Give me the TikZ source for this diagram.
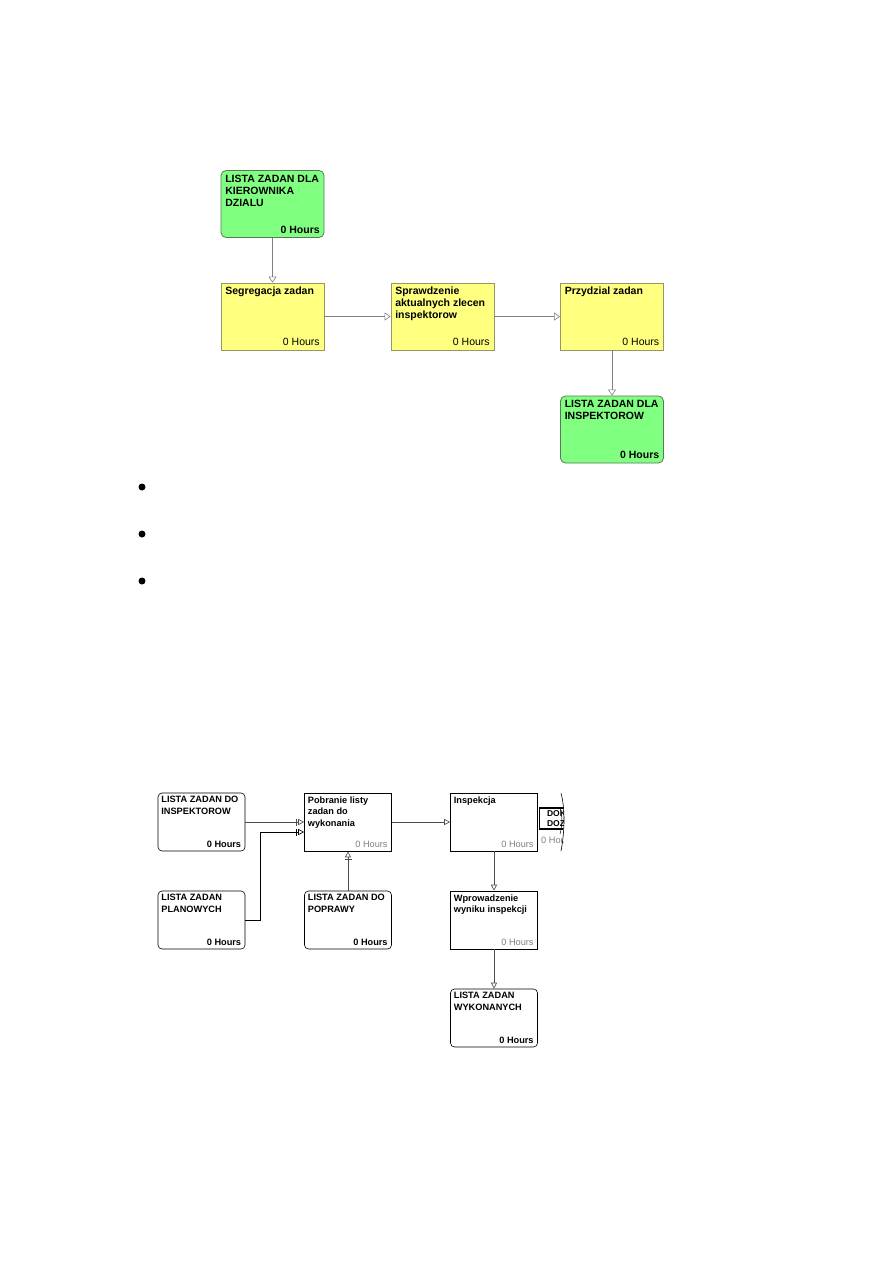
\documentclass[tikz,border=0pt]{standalone}
\usepackage{fontspec}
\setmainfont{Liberation Sans}
\usetikzlibrary{arrows.meta}
\definecolor{procyellow}{RGB}{255,255,128}
\definecolor{listgreen}{RGB}{128,255,128}
\definecolor{yellowedge}{RGB}{150,150,100}
\definecolor{greenedge}{RGB}{90,120,90}
\begin{document}
\begin{tikzpicture}[x=1pt, y=-1pt,
  bigbox/.style={draw, minimum width=103pt, minimum height=67pt, inner sep=0pt, line width=0.8pt},
  greenbox/.style={bigbox, fill=listgreen, draw=greenedge, rounded corners=5pt},
  yellowbox/.style={bigbox, fill=procyellow, draw=yellowedge},
  bigtitle/.style={anchor=north west, inner sep=4.5pt, align=left, font=\fontsize{10.5}{12}\selectfont\bfseries},
  bighours/.style={anchor=south east, inner sep=4.5pt, font=\fontsize{10.5}{12}\selectfont},
  smallbox/.style={draw, fill=white, minimum width=87pt, minimum height=58pt, inner sep=0pt, line width=0.6pt},
  listbox/.style={smallbox, rounded corners=4pt},
  smalltitle/.style={anchor=north west, inner sep=3.5pt, align=left, font=\fontsize{9.2}{11.7}\selectfont\bfseries},
  smallhours/.style={anchor=south east, inner sep=4pt, font=\fontsize{9.2}{11.7}\selectfont\bfseries},
  prochours/.style={anchor=south east, inner sep=4pt, text=gray, font=\fontsize{9.2}{11.7}\selectfont},
  dokbox/.style={draw, line width=1.6pt, anchor=north west, minimum width=40pt, minimum height=21pt, inner sep=2pt, align=left, font=\fontsize{8.5}{10}\selectfont\bfseries},
  bullet/.style={circle, fill=black, minimum size=7pt, inner sep=0pt},
  topconn/.style={draw=gray, line width=0.6pt, -{Triangle[open, length=6pt, width=8pt]}},
  conn/.style={draw=gray!60!black, line width=0.6pt, -{Triangle[open, length=6pt, width=6pt]}},
  barconn/.style={draw=gray!60!black, line width=0.6pt, -{Bar[width=7pt, sep=1.5pt] Triangle[open, length=6pt, width=6pt]}}]
  \useasboundingbox (0,0) rectangle (893,1263);
  \node[greenbox, label={[bigtitle]north west:{LISTA ZADAN DLA\\KIEROWNIKA\\DZIALU}}, label={[bighours, font=\fontsize{10.5}{12}\selectfont\bfseries]south east:0 Hours}] (kier) at (272.5,204) {};
  \node[yellowbox, label={[bigtitle]north west:{Segregacja zadan}}, label={[bighours]south east:0 Hours}] (segr) at (272.5,316.5) {};
  \node[yellowbox, label={[bigtitle]north west:{Sprawdzenie\\aktualnych zlecen\\inspektorow}}, label={[bighours]south east:0 Hours}] (spraw) at (442.5,316.5) {};
  \node[yellowbox, label={[bigtitle]north west:{Przydzial zadan}}, label={[bighours]south east:0 Hours}] (przy) at (612,316.5) {};
  \node[greenbox, label={[bigtitle]north west:{LISTA ZADAN DLA\\INSPEKTOROW}}, label={[bighours, font=\fontsize{10.5}{12}\selectfont\bfseries]south east:0 Hours}] (linsp) at (612,429.5) {};
  \draw[topconn] (kier) -- (segr);
  \draw[topconn] (segr) -- (spraw);
  \draw[topconn] (spraw) -- (przy);
  \draw[topconn] (przy) -- (linsp);
  \foreach \y/\n in {487/b1, 534/b2, 581/b3}
    \node[bullet] (\n) at (142,\y) {};
  \node[listbox, label={[smalltitle]north west:{LISTA ZADAN DO\\INSPEKTOROW}}, label={[smallhours]south east:0 Hours}] (ldi) at (201.5,822) {};
  \node[listbox, label={[smalltitle]north west:{LISTA ZADAN\\PLANOWYCH}}, label={[smallhours]south east:0 Hours}] (lplan) at (201.5,920) {};
  \node[smallbox, label={[smalltitle]north west:{Pobranie listy\\zadan do\\wykonania}}, label={[prochours]south east:0 Hours}] (pobr) at (348,822) {};
  \node[listbox, label={[smalltitle]north west:{LISTA ZADAN DO\\POPRAWY}}, label={[smallhours]south east:0 Hours}] (popr) at (348,920) {};
  \node[smallbox, label={[smalltitle]north west:{Inspekcja}}, label={[prochours]south east:0 Hours}] (inspk) at (494,822) {};
  \node[smallbox, label={[smalltitle]north west:{Wprowadzenie\\wyniku inspekcji}}, label={[prochours]south east:0 Hours}] (wpro) at (494,920) {};
  \node[listbox, label={[smalltitle]north west:{LISTA ZADAN\\WYKONANYCH}}, label={[smallhours]south east:0 Hours}] (wyk) at (494,1018) {};
  \begin{scope}
    \clip (536,790) rectangle (563,856);
    \node[dokbox] (dok) at (538.8,807) {DOKU\\DOZO};
    \node[prochours, anchor=north west, inner sep=0pt] (dokh) at (541,837) {0 Hours};
  \end{scope}
  \draw[line width=0.6pt] (561,793) .. controls (565,808) and (565,830) .. (561,851);
  \draw[line width=0.5pt] (560,808) .. controls (562.5,815) and (562.5,826) .. (560,834);
  \draw[barconn] (ldi) -- (pobr);
  \draw[barconn, draw=black] (lplan.east) -- ++(15,0) |- ([yshift=-10pt]pobr.west);
  \draw[barconn] (popr) -- (pobr);
  \draw[conn] (pobr) -- (inspk);
  \draw[conn] (inspk) -- (wpro);
  \draw[conn] (wpro) -- (wyk);
\end{tikzpicture}
\end{document}
